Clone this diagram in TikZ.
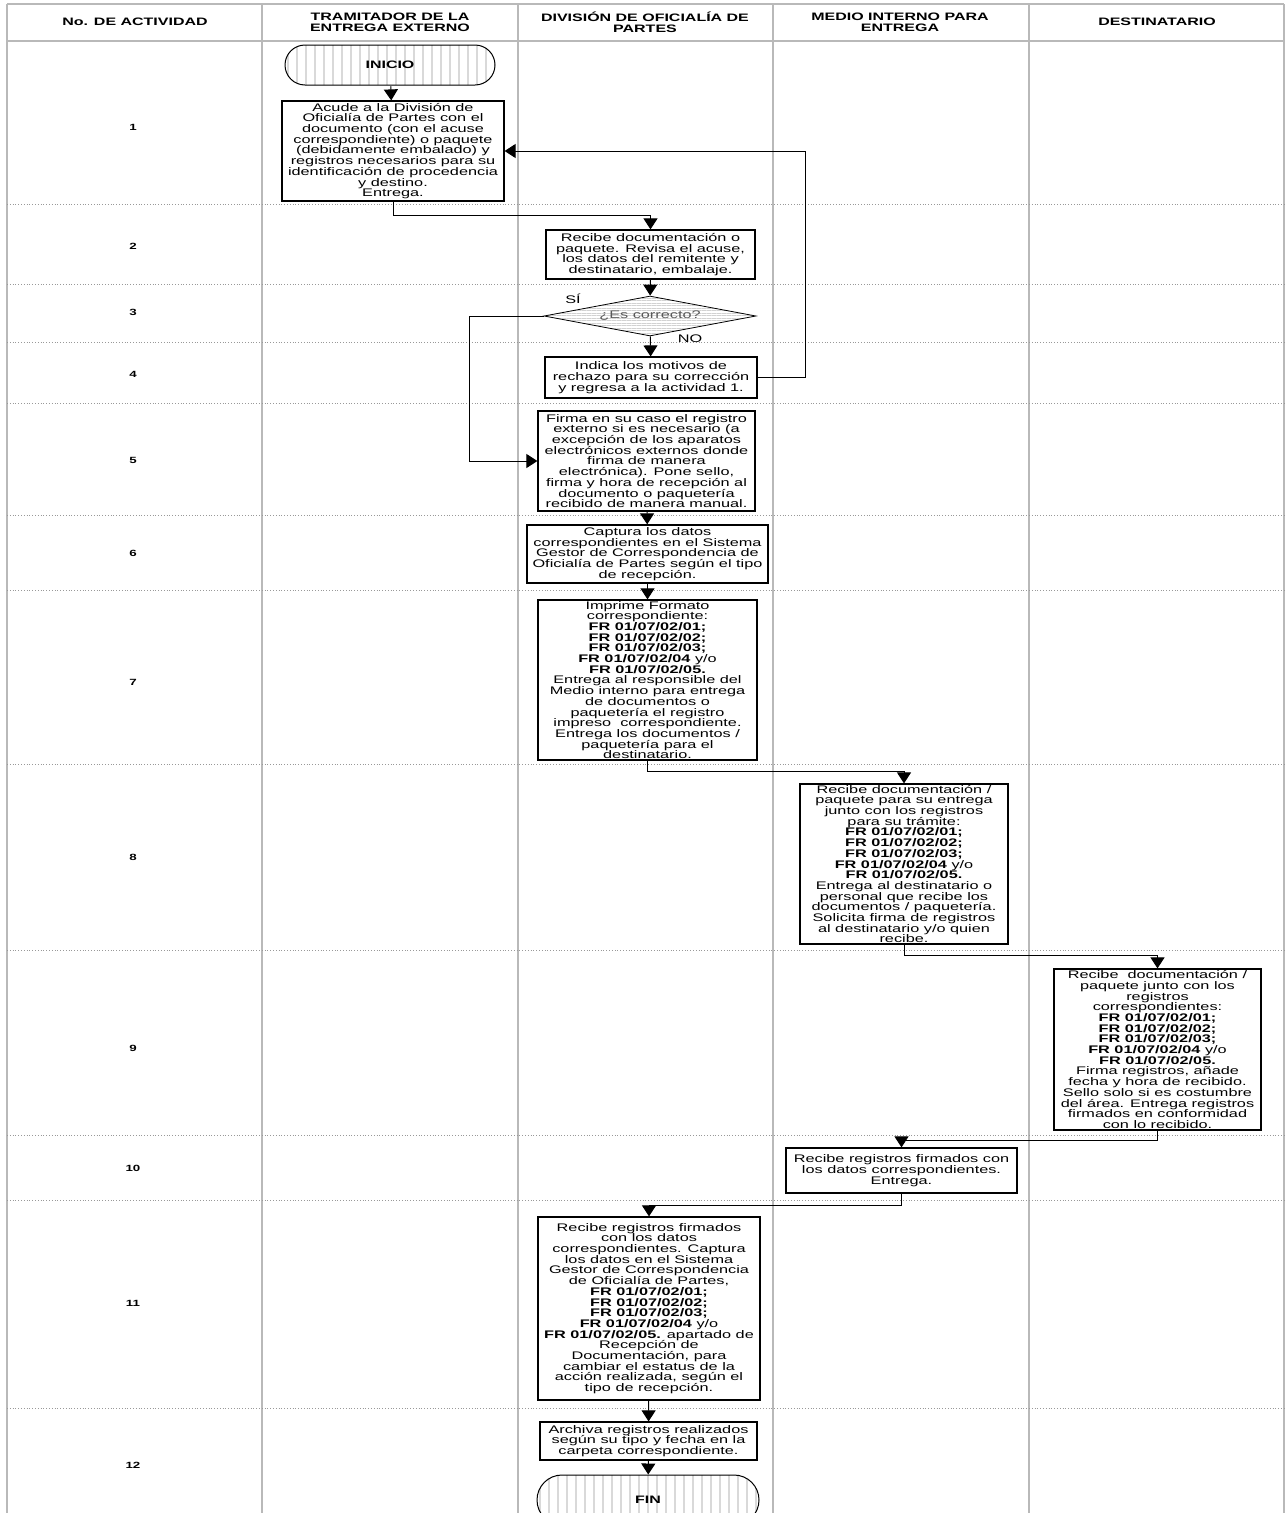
\documentclass[tikz,border=0pt]{standalone}
\usepackage{fontspec}
\setmainfont{Liberation Sans}[FakeStretch=1.48]
\usetikzlibrary{arrows.meta,patterns.meta,shapes.geometric,positioning}

\newcommand{\fmtlist}{\textbf{FR 01/07/02/01;}\\ \textbf{FR 01/07/02/02;}\\ \textbf{FR 01/07/02/03;}\\ \textbf{FR 01/07/02/04} y/o\\}

\tikzset{
  lane/.style={draw=gray!55, line width=1.6pt},
  rowsep/.style={draw=gray!80, dotted, line width=0.8pt},
  headtxt/.style={align=center, font=\fontsize{10.8}{11.2}\selectfont\bfseries},
  numtxt/.style={font=\fontsize{9}{9}\selectfont\bfseries},
  proc/.style={draw, line width=1.2pt, fill=white, align=center, inner sep=0pt,
    font=\fontsize{11}{10.7}\selectfont},
  term/.style={draw, line width=1pt, rounded corners=20pt, inner sep=0pt,
    pattern={Lines[angle=90,distance=9pt,line width=2.5pt]}, pattern color=gray!30,
    font=\fontsize{10.8}{11}\selectfont\bfseries},
  decision/.style={draw, diamond, line width=0.8pt, inner sep=0pt, aspect=5.3,
    pattern={Lines[angle=0,distance=2.5pt,line width=0.9pt]}, pattern color=gray!35,
    font=\fontsize{11}{11}\selectfont, text=gray!70!black},
  flow/.style={line width=1pt, -{Triangle[length=11pt,width=14pt]}},
  small/.style={font=\fontsize{11}{11}\selectfont}
}

\begin{document}
\begin{tikzpicture}[x=1pt,y=-1pt]
    \useasboundingbox (0,0) rectangle (1286,1513);
    \clip (0,0) rectangle (1286,1513);

    % swimlanes
    \foreach \xl in {7,262,518,773,1029,1284}
        \draw[lane] (\xl,4) -- (\xl,1513);
    \draw[lane] (7,4) -- (1284,4);
    \draw[lane] (7,41) -- (1284,41);
    \foreach \yr in {204,284,342,403,515,590,764,950,1135,1200,1408}
        \draw[rowsep] (7,\yr) -- (1284,\yr);

    \node[headtxt] (h0) at (135,22) {No. DE ACTIVIDAD};
    \node[headtxt] (h1) at (390,22) {TRAMITADOR DE LA\\ENTREGA EXTERNO};
    \node[headtxt] (h2) at (645,22) {DIVISIÓN DE OFICIALÍA DE\\PARTES};
    \node[headtxt] (h3) at (900,22) {MEDIO INTERNO PARA\\ENTREGA};
    \node[headtxt] (h4) at (1157,22) {DESTINATARIO};

    \foreach \n/\yn in {1/127,2/246,3/312,4/374,5/460,6/553,7/682,8/857,9/1048,10/1168,11/1303,12/1465}
        \node[numtxt] (n\n) at (133,\yn) {\n};

    % steps
    \node[term, minimum width=210pt, minimum height=40pt] (inicio) at (390,65) {INICIO};
    \node[proc, minimum width=222pt, minimum height=100pt] (b1) at (393,151)
        {Acude a la División de\\Oficialía de Partes con el\\documento (con el acuse\\correspondiente) o paquete\\(debidamente embalado) y\\registros necesarios para su\\identificación de procedencia\\y destino.\\Entrega.};
    \node[proc, minimum width=209pt, minimum height=49pt] (b2) at (650.5,254.5)
        {Recibe documentación o\\paquete. Revisa el acuse,\\los datos del remitente y\\destinatario, embalaje.};
    \node[decision, minimum width=212pt, minimum height=40pt] (dec) at (650,316) {¿Es correcto?};
    \node[small] (si) at (573,299) {SÍ};
    \node[small] (no) at (690,339) {NO};
    \node[proc, minimum width=212pt, minimum height=41pt] (b4) at (651,377.5)
        {Indica los motivos de\\rechazo para su corrección\\y regresa a la actividad 1.};
    \node[proc, minimum width=217pt, minimum height=100pt] (b5) at (646.5,461)
        {Firma en su caso el registro\\externo si es necesario (a\\excepción de los aparatos\\electrónicos externos donde\\firma de manera\\electrónica). Pone sello,\\firma y hora de recepción al\\documento o paquetería\\recibido de manera manual.};
    \node[proc, minimum width=241pt, minimum height=58pt] (b6) at (647.5,554)
        {Captura los datos\\correspondientes en el Sistema\\Gestor de Correspondencia de\\Oficialía de Partes según el tipo\\de recepción.};
    \node[proc, minimum width=219pt, minimum height=160pt] (b7) at (647.5,680)
        {Imprime Formato\\correspondiente:\\\fmtlist\textbf{FR 01/07/02/05.}\\Entrega al responsible del\\Medio interno para entrega\\de documentos o\\paquetería el registro\\impreso\ \ correspondiente.\\Entrega los documentos /\\paquetería para el\\destinatario.};
    \node[proc, minimum width=208pt, minimum height=160pt] (b8) at (904,864)
        {Recibe documentación /\\paquete para su entrega\\junto con los registros\\para su trámite:\\\fmtlist\textbf{FR 01/07/02/05.}\\Entrega al destinatario o\\personal que recibe los\\documentos / paquetería.\\Solicita firma de registros\\al destinatario y/o quien\\recibe.};
    \node[proc, minimum width=207pt, minimum height=161pt] (b9) at (1157.5,1049.5)
        {Recibe\ \ documentación /\\paquete junto con los\\registros\\correspondientes:\\\fmtlist\textbf{FR 01/07/02/05.}\\Firma registros, añade\\fecha y hora de recibido.\\Sello solo si es costumbre\\del área. Entrega registros\\firmados en conformidad\\con lo recibido.};
    \node[proc, minimum width=231pt, minimum height=45pt] (b10) at (901.5,1170.5)
        {Recibe registros firmados con\\los datos correspondientes.\\Entrega.};
    \node[proc, minimum width=222pt, minimum height=183pt] (b11) at (649,1308.5)
        {Recibe registros firmados\\con los datos\\correspondientes. Captura\\los datos en el Sistema\\Gestor de Correspondencia\\de Oficialía de Partes,\\\fmtlist\textbf{FR 01/07/02/05.} apartado de\\Recepción de\\Documentación, para\\cambiar el estatus de la\\acción realizada, según el\\tipo de recepción.};
    \node[proc, minimum width=217pt, minimum height=38pt] (b12) at (648.5,1441)
        {Archiva registros realizados\\según su tipo y fecha en la\\carpeta correspondiente.};
    \node[term, minimum width=222pt, minimum height=50pt, rounded corners=25pt] (fin) at (648,1500) {FIN};

    % connectors
    \draw[flow] (inicio) -- (b1);
    \draw[flow] (b1.south) -- ++(0,14) -| (b2.north);
    \draw[flow] (b2) -- (dec);
    \draw[flow] (dec) -- (b4);
    \draw[flow] (b4.east) -- ++(48,0) |- (b1.east);
    \draw[flow] (dec.west) -- ++(-74,0) |- (b5.west);
    \draw[flow] (b5) -- (b6);
    \draw[flow] (b6) -- (b7);
    \draw[flow] (b7.south) -- ++(0,11) -| (b8.north);
    \draw[flow] (b8.south) -- ++(0,11) -| (b9.north);
    \draw[flow] (b9.south) -- ++(0,10) -| (b10.north);
    \draw[flow] (b10.south) -- ++(0,12) -| (b11.north);
    \draw[flow] (b11) -- (b12);
    \draw[flow] (b12) -- (fin);
\end{tikzpicture}
\end{document}
